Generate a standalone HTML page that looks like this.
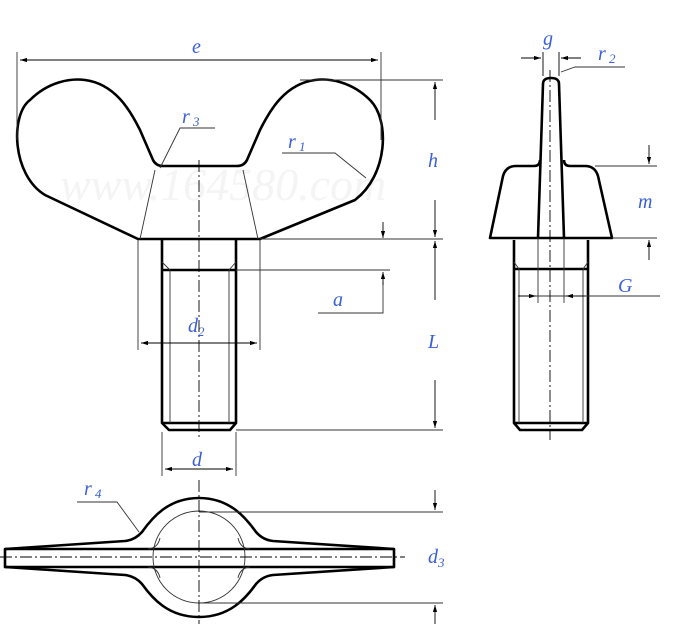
<!DOCTYPE html>
<html><head><style>body{margin:0;background:#fff}svg{display:block}
text{font-family:"Liberation Serif",serif;font-style:italic;fill:#3a5fd9;font-size:20px}</style></head>
<body>
<svg width="700" height="624" viewBox="0 0 700 624" xmlns="http://www.w3.org/2000/svg">
<defs><marker id="a" viewBox="0 0 10 6" refX="10" refY="3" markerWidth="8" markerHeight="5" orient="auto-start-reverse"><path d="M0,0L10,3L0,6z" fill="#000"/></marker></defs>
<text x="60" y="200" style="fill:#f4f4f4;font-size:46px">www.164580.com</text>
<g fill="none" stroke="#000" stroke-width="2.6" stroke-linejoin="round">
<path d="M138,239 L45,195 C12,175 10,115 30,100 C48,82 70,78 85,80 C115,84 130,110 140,130 L153,160 Q156,166 163,166 L237,166 Q244,166 247,160 L260,130 C270,110 285,84 315,80 C330,78 352,82 370,100 C390,120 388,175 355,200 L260,239 Z"/>
<path d="M162,240 L162,423 L169,430 L230,430 L236,423 L236,240"/>
<path d="M162,270 L236,270 M162,423 L236,423"/>
<path d="M538,238 L543,84 Q543,78 551,78 Q559,78 559,84 L564,238"/>
<path d="M540,160 Q540,166 534,166 L516,166 Q506,166 503,176 L490,238 L612,238 L598,176 Q595,166 585,166 L570,166 Q564,166 564,160"/>
<path d="M514,240 L514,423 L520,430 L582,430 L588,423 L588,240 M514,269 L588,269 M514,423 L588,423"/>
<path d="M5,549 L5,567 L394,567 L394,549 Z"/>
<path d="M5,549 L125,541 Q135,540 142,532 C152,518 168,498 199,498 C230,498 246,518 256,532 Q263,540 273,541 L394,549"/>
<path d="M5,567 L125,575 Q135,576 142,584 C152,598 168,617 199,617 C230,617 246,598 256,584 Q263,576 273,575 L394,567"/>
</g>
<g fill="none" stroke="#333" stroke-width="0.9">
<circle cx="199" cy="557" r="46"/>
<path d="M148,549 Q158,548 160,538 M250,549 Q240,548 238,538 M148,567 Q158,568 160,578 M250,567 Q240,568 238,578"/>
<path d="M155,170 L140,239 M243,170 L258,239 M170,270 L170,423 M229,270 L229,423 M162,262 L170,270 M236,262 L229,270"/>
<path d="M519,269 L519,423 M583,269 L583,423 M514,262 L519,269 M588,262 L583,269 M538,238 L538,303 M564,238 L564,303"/>
<path d="M17,52 L17,140 M381,52 L381,140 M300,80 L443,80 M260,239 L443,239 M236,270 L390,270 M236,430 L443,430"/>
<path d="M138,240 L138,350 M260,240 L260,350 M162,432 L162,476 M236,432 L236,476"/>
<path d="M318,313 L383,313 L383,282"/>
<path d="M160,168 L180,128 L215,128 M366,178 L335,153 L282,153 M139,532 L117,502 L77,502 M561,72 L575,67 L625,67"/>
<path d="M595,166 L657,166 M612,238 L657,238 M518,296 L660,296 M199,512 L443,512 M199,603 L443,603"/>
</g>
<g stroke="#000" stroke-width="0.9" fill="none">
<line x1="20" y1="60" x2="378" y2="60" marker-start="url(#a)" marker-end="url(#a)"/>
<line x1="435" y1="120" x2="435" y2="82" marker-end="url(#a)"/><line x1="435" y1="200" x2="435" y2="237" marker-end="url(#a)"/>
<line x1="435" y1="300" x2="435" y2="241" marker-end="url(#a)"/><line x1="435" y1="380" x2="435" y2="428" marker-end="url(#a)"/>
<line x1="383" y1="222" x2="383" y2="238" marker-end="url(#a)"/><line x1="383" y1="285" x2="383" y2="272" marker-end="url(#a)"/>
<line x1="141" y1="343" x2="257" y2="343" marker-start="url(#a)" marker-end="url(#a)"/>
<line x1="165" y1="469" x2="233" y2="469" marker-start="url(#a)" marker-end="url(#a)"/>
<line x1="521" y1="58" x2="541" y2="58" marker-end="url(#a)"/><line x1="581" y1="58" x2="561" y2="58" marker-end="url(#a)"/>
<path d="M543,52 L543,76 M559,52 L559,76"/>
<line x1="649" y1="145" x2="649" y2="164" marker-end="url(#a)"/><line x1="649" y1="260" x2="649" y2="240" marker-end="url(#a)"/>
<line x1="518" y1="296" x2="536" y2="296" marker-end="url(#a)"/><line x1="585" y1="296" x2="566" y2="296" marker-end="url(#a)"/>
<line x1="435" y1="490" x2="435" y2="510" marker-end="url(#a)"/><line x1="435" y1="624" x2="435" y2="605" marker-end="url(#a)"/>
</g>
<g stroke="#000" stroke-width="0.9" stroke-dasharray="12,3,2,3" fill="none">
<path d="M199,160 L199,440 M550,70 L550,440 M199,480 L199,624 M0,557 L405,557"/>
</g>
<text x="192" y="53">e</text>
<text x="182" y="123">r<tspan font-size="13" dy="3"> 3</tspan></text>
<text x="288" y="148">r<tspan font-size="13" dy="3"> 1</tspan></text>
<text x="428" y="167">h</text>
<text x="333" y="306">a</text>
<text x="188" y="332">d<tspan font-size="13" dy="4">2</tspan></text>
<text x="428" y="348">L</text>
<text x="192" y="466">d</text>
<text x="543" y="45">g</text>
<text x="598" y="60">r<tspan font-size="13" dy="3"> 2</tspan></text>
<text x="638" y="208">m</text>
<text x="618" y="292">G</text>
<text x="84" y="495">r<tspan font-size="13" dy="3"> 4</tspan></text>
<text x="428" y="563">d<tspan font-size="13" dy="4">3</tspan></text>
</svg>
</body></html>
